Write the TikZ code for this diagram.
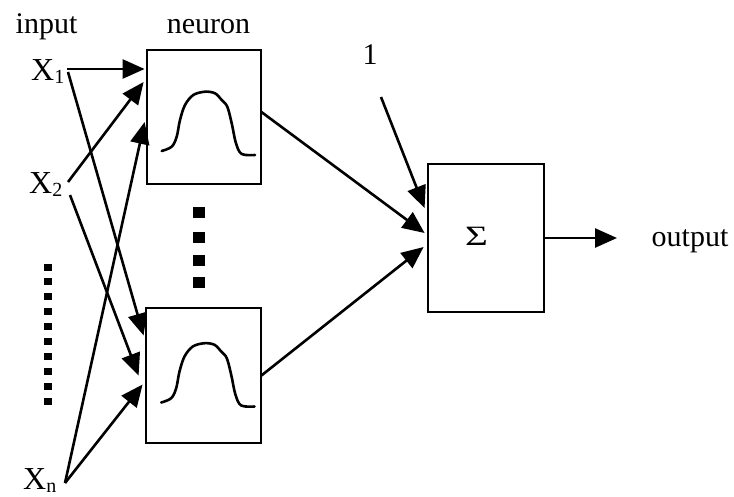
\documentclass[tikz,border=0pt]{standalone}
\usepackage{fontspec}
\setmainfont{Liberation Serif}
\usetikzlibrary{arrows.meta,calc}
\newcommand\lowsub[1]{\raisebox{-3pt}{\fontsize{20}{20}\selectfont #1}}
\begin{document}
\begin{tikzpicture}[x=1pt,y=-1pt,
  box/.style={draw,line width=2.8pt,minimum width=114pt,minimum height=134pt,inner sep=0pt},
  conn/.style={line width=2.6pt,-{Triangle[length=22pt,width=19pt]}},
  lbl/.style={font=\fontsize{30}{30}\selectfont,inner sep=0pt,anchor=base},
  bellcurve/.style={line width=2.6pt,line cap=round,line join=round},
  pics/bell/.style={code={
    \draw[bellcurve] plot[smooth,tension=0.55] coordinates {(-42.3,34) (-32.3,29.7) (-27.3,19.7) (-24,3) (-19,-12) (-10.7,-22) (1,-25.3) (11,-23.7) (17.7,-17) (23.3,-10.3) (27.7,6.3) (32,26.3) (37.7,37) (51,38)};
  }}]
\useasboundingbox (0,0) rectangle (734,496);

% headings
\node[lbl] (inp) at (46.5,33) {input};
\node[lbl] (neu) at (208.5,33) {neuron};
\node[lbl] (one) at (370,64) {1};
\node[lbl] (out) at (690,246) {output};

% inputs
\node[lbl,anchor=base west,font=\fontsize{32}{32}\selectfont] (x1) at (31,80) {X\lowsub{1}};
\node[lbl,anchor=base west,font=\fontsize{32}{32}\selectfont] (x2) at (29,193) {X\lowsub{2}};
\node[lbl,anchor=base west,font=\fontsize{32}{32}\selectfont] (xn) at (23,489) {X\lowsub{n}};

% neurons and summation
\node[box] (n1) at (204,117) {};
\node[box,minimum width=115pt,minimum height=135pt] (n2) at (203.5,375.5) {};
\node[box,minimum width=116pt,minimum height=148pt] (sum) at (486,238) {};
\node[inner sep=0pt,font=\fontsize{28}{28}\selectfont,xscale=1.4] (sigma) at (476.5,236.5) {Σ};

\pic at (n1) {bell};
\pic at ($(n2)+(0,-7)$) {bell};

% ellipsis marks
\foreach \i in {0,...,9} \fill (43.5,263.5+14.9*\i) rectangle ++(8,7);
\foreach \y in {207,232,254.5,277} \fill (193,\y) rectangle ++(12,11);

% connector end points
\coordinate (x1o) at (67,69);
\coordinate (x1d) at (68,72);
\coordinate (x2o) at (68,182);
\coordinate (x2d) at (70,195);
\coordinate (xno) at (65,483);
\coordinate (onestart) at (381,97);
\coordinate (outend) at (617,238);

\draw[conn] (x1o) -- ($(n1.west)+(-1,-48)$);
\draw[conn] (x1d) -- ($(n2.west)+(-1,-40)$);
\draw[conn] (x2o) -- ($(n1.west)+(-2,-35)$);
\draw[conn] (x2d) -- ($(n2.west)+(-6,0)$);
\draw[conn] (xno) -- ($(n1.west)+(-1,5)$);
\draw[conn] (xno) -- ($(n2.west)+(-2,9)$);

\draw[conn] ($(n1.east)+(-1,-5)$) -- ($(sum.west)+(-2,-5)$);
\draw[conn] ($(n2.east)+(-1,0)$) -- ($(sum.west)+(-3,9)$);
\draw[conn] (onestart) -- ($(sum.west)+(-2,-30)$);
\draw[conn] (sum.east) -- (outend);
\end{tikzpicture}
\end{document}
